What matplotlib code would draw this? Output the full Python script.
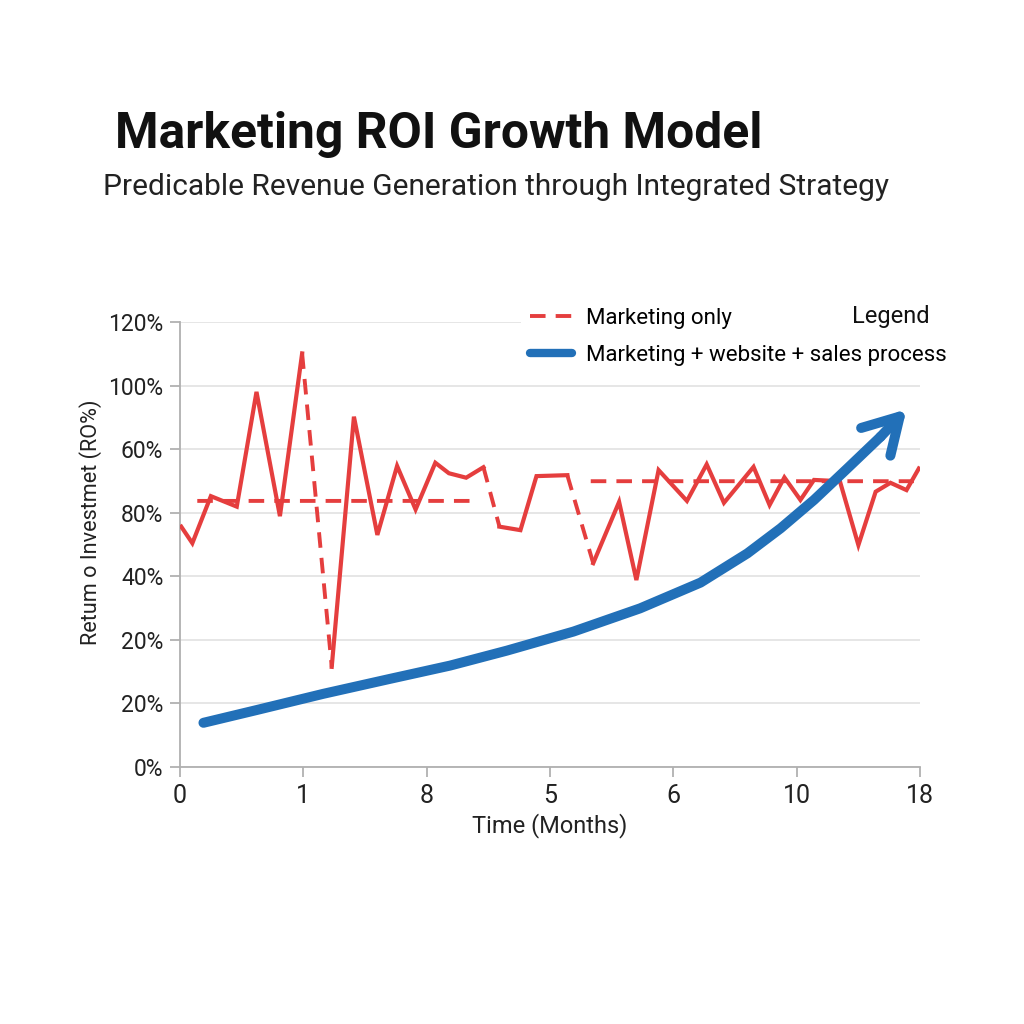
import numpy as np
import matplotlib.pyplot as plt

plt.rcParams['font.family'] = ['Roboto', 'DejaVu Sans']

# x positions are in tick-slot units (0..6), y in percent-ish units (gridline every 20)
x_ticklabels = ['0', '1', '8', '5', '6', '10', '18']
y_ticklabels = ['0%', '20%', '20%', '40%', '80%', '60%', '100%', '120%']

# marketing only - jagged solid pieces (nan = break where the dashed part takes over)
red_x = [0.01, 0.10, 0.25, 0.46, 0.62, 0.81, 0.99, np.nan,
         1.23, 1.41, 1.60, 1.76, 1.91, 2.07, 2.18, 2.32, 2.46, np.nan,
         2.59, 2.76, 2.89, 3.14, np.nan,
         3.35, 3.56, 3.70, 3.88, 4.11, 4.27, 4.41, 4.65, 4.78, 4.90, 5.03,
         5.14, 5.35, 5.50, 5.64, 5.76, 5.89, 5.99]
red_y = [75.6, 70.4, 85.2, 81.9, 118.0, 78.9, 130.1, np.nan,
         31.5, 110.2, 73.0, 94.7, 81.0, 95.7, 92.4, 91.0, 94.3, np.nan,
         75.6, 74.5, 91.5, 91.8, np.nan,
         64.1, 83.4, 58.8, 93.4, 83.7, 95.2, 83.1, 94.4, 82.4, 91.1, 84.0,
         90.3, 89.9, 69.8, 86.6, 89.4, 87.1, 93.9]

# dashed connectors + baseline levels
dash_x = [0.99, 1.23, np.nan, 2.46, 2.59, np.nan, 3.14, 3.35, np.nan,
          0.14, 2.36, np.nan, 3.33, 5.95]
dash_y = [130.1, 31.5, np.nan, 94.3, 75.6, np.nan, 91.8, 64.1, np.nan,
          83.7, 83.7, np.nan, 89.9, 89.9]

# marketing + website + sales process
blue_x = [0.19, 0.62, 1.16, 1.70, 2.19, 2.65, 3.19, 3.73, 4.22,
          4.60, 4.87, 5.14, 5.41, 5.68, 5.89]
blue_y = [13.9, 17.9, 23.0, 27.7, 31.9, 36.6, 42.6, 49.9, 58.0,
          67.2, 75.1, 84.0, 93.9, 103.9, 112.5]

red = '#e53e3e'
blue = '#2270b8'

fig = plt.figure(figsize=(10.24, 10.24), dpi=100)
ax = fig.add_axes([0.1758, 0.251, 0.7227, 0.4346])

ax.plot(red_x, red_y, color=red, lw=3.0, solid_joinstyle='miter', zorder=3)
ax.plot(dash_x, dash_y, color=red, lw=2.8, ls=(0, (4, 2.6)), zorder=3)
ax.plot(blue_x[:-1], blue_y[:-1], color=blue, lw=7.2, solid_capstyle='round',
        solid_joinstyle='round', zorder=4)
ax.annotate('', xy=(blue_x[-1], blue_y[-1]), xytext=(blue_x[-2], blue_y[-2]),
            arrowprops=dict(arrowstyle='->,head_length=2.5,head_width=1.45', color=blue, lw=7.2,
                            capstyle='round', joinstyle='round', shrinkA=0, shrinkB=0,
                            mutation_scale=10), zorder=4)

ax.set_xlim(0, 6)
ax.set_ylim(0, 140)
ax.set_xticks(range(7))
ax.set_xticklabels(x_ticklabels, fontsize=18)
ax.set_yticks(range(0, 141, 20))
ax.set_yticklabels(y_ticklabels, fontsize=16.5)
ax.tick_params(axis='both', colors='#aaaaaa', length=7, width=1.2, labelcolor='#222222')
ax.tick_params(axis='x', pad=5)
ax.tick_params(axis='y', pad=5)
ax.grid(axis='y', color='#e2e2e2', lw=1.2)
ax.set_axisbelow(True)
for s in ['top', 'right']:
    ax.spines[s].set_visible(False)
for s in ['left', 'bottom']:
    ax.spines[s].set_color('#b0b0b0')
    ax.spines[s].set_linewidth(1.3)

ax.set_xlabel('Time (Months)', fontsize=17, color='#222222', labelpad=4)
ax.set_ylabel('Retum o Investmet (RO%)', fontsize=15.6, color='#222222')
ax.yaxis.set_label_coords(-0.105, 0.55)

h1, = ax.plot([], [], color=red, lw=2.8, ls=(0, (4, 2.6)))
h2, = ax.plot([], [], color=blue, lw=6, solid_capstyle='round')
leg = ax.legend([h1, h2], ['Marketing only', 'Marketing + website + sales process'],
                loc='upper left', bbox_to_anchor=(0.461, 1.051), fontsize=16,
                frameon=True, handlelength=1.9, handletextpad=0.6, labelspacing=0.7,
                borderaxespad=0)
leg.get_frame().set_facecolor('white')
leg.get_frame().set_edgecolor('none')
leg.get_frame().set_alpha(1)
fig.text(852 / 1024, 1 - 316 / 1024, 'Legend', fontsize=17, va='center', color='#111111')

fig.text(115 / 1024, 1 - 134 / 1024, 'Marketing ROI Growth Model', fontsize=35.8,
         fontweight='bold', va='center', color='#111111')
fig.text(103 / 1024, 1 - 187 / 1024, 'Predicable Revenue Generation through Integrated Strategy',
         fontsize=21.5, va='center', color='#222222')

fig.savefig('out.png', dpi=100, facecolor='white')
